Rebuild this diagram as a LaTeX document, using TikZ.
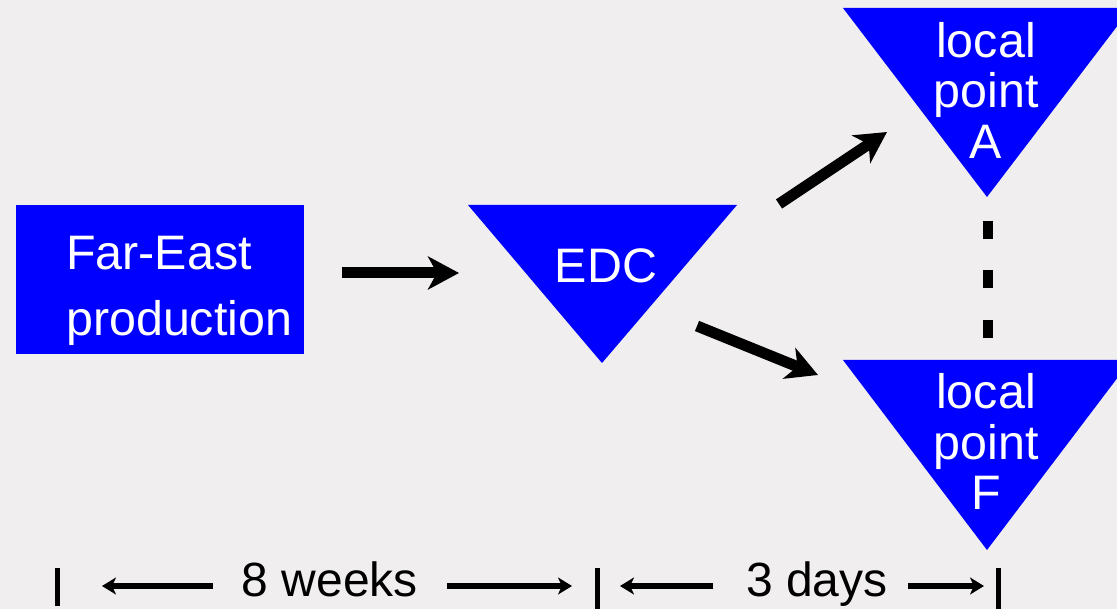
\documentclass[tikz,border=0pt]{standalone}
\usepackage{fontspec}
\setmainfont{Liberation Sans}
\usetikzlibrary{arrows.meta}
\definecolor{pagebg}{RGB}{240,238,239}
\definecolor{flowblue}{RGB}{0,0,255}
\begin{document}
\begin{tikzpicture}[x=1pt,y=-1pt,
  lbl/.style={inner sep=0pt,text=white,font=\fontsize{48.4}{52}\selectfont},
  tlbl/.style={inner sep=0pt,text=black,font=\fontsize{48}{52}\selectfont},
  flow/.style={line width=11pt,-{Stealth[length=31pt,width=33pt,inset=9pt]}},
  span/.style={line width=5.5pt,-{Stealth[length=14pt,width=17pt,inset=4pt]}},
  tick/.style={line width=5pt},
  stock/.style={fill=flowblue}]
  % page and clipping
  \fill[pagebg] (0,0) rectangle (1117,609);
  \useasboundingbox (0,0) rectangle (1117,609);
  \clip (0,0) rectangle (1117,609);

  % production block
  \fill[flowblue] (16,205) rectangle (304,354);
  \node[lbl,anchor=base west] (fe1) at (66,270) {Far-East};
  \node[lbl,anchor=base west] (fe2) at (66,336) {production};

  % stock points (inverted triangles)
  \fill[stock] (468,205) -- (737,205) -- (602,363) -- cycle;
  \node[lbl,anchor=base] (edc) at (606,283) {EDC};

  \fill[stock] (843,8) -- (1131,8) -- (987,197) -- cycle;
  \node[lbl,anchor=base] (a1) at (986,58) {local};
  \node[lbl,anchor=base] (a2) at (986,108) {point};
  \node[lbl,anchor=base] (a3) at (986,159) {A};

  \fill[stock] (843,360) -- (1131,360) -- (987,550) -- cycle;
  \node[lbl,anchor=base] (f1) at (986,409) {local};
  \node[lbl,anchor=base] (f2) at (986,460) {point};
  \node[lbl,anchor=base] (f3) at (986,510) {F};

  % flow arrows
  \coordinate (p1) at (342,273);
  \coordinate (p2) at (459,273);
  \coordinate (u1) at (779,204);
  \coordinate (u2) at (887,132);
  \coordinate (d1) at (697,326);
  \coordinate (d2) at (818,375);
  \draw[flow] (p1) -- (p2);
  \draw[flow] (u1) -- (u2);
  \draw[flow] (d1) -- (d2);

  % dots between the local points
  \coordinate (v1) at (988,221);
  \coordinate (v2) at (988,338);
  \draw[line width=10.5pt,dash pattern=on 18pt off 31.5pt] (v1) -- (v2);

  % lead time scale
  \coordinate (t1a) at (57,568);  \coordinate (t1b) at (57,606);
  \coordinate (t2a) at (597,568); \coordinate (t2b) at (597,612);
  \coordinate (t3a) at (998,568); \coordinate (t3b) at (998,612);
  \draw[tick] (t1a) -- (t1b);
  \draw[tick] (t2a) -- (t2b);
  \draw[tick] (t3a) -- (t3b);

  \node[tlbl,anchor=base] (wk) at (330,596) {8 weeks};
  \node[tlbl,anchor=base] (dy) at (817,596) {3 days};

  \coordinate (w1) at (213,586); \coordinate (w2) at (102,586);
  \coordinate (w3) at (447,586); \coordinate (w4) at (572,586);
  \coordinate (y1) at (713,586); \coordinate (y2) at (620,586);
  \coordinate (y3) at (908,586); \coordinate (y4) at (984,586);
  \draw[span] (w1) -- (w2);
  \draw[span] (w3) -- (w4);
  \draw[span] (y1) -- (y2);
  \draw[span] (y3) -- (y4);
\end{tikzpicture}
\end{document}
